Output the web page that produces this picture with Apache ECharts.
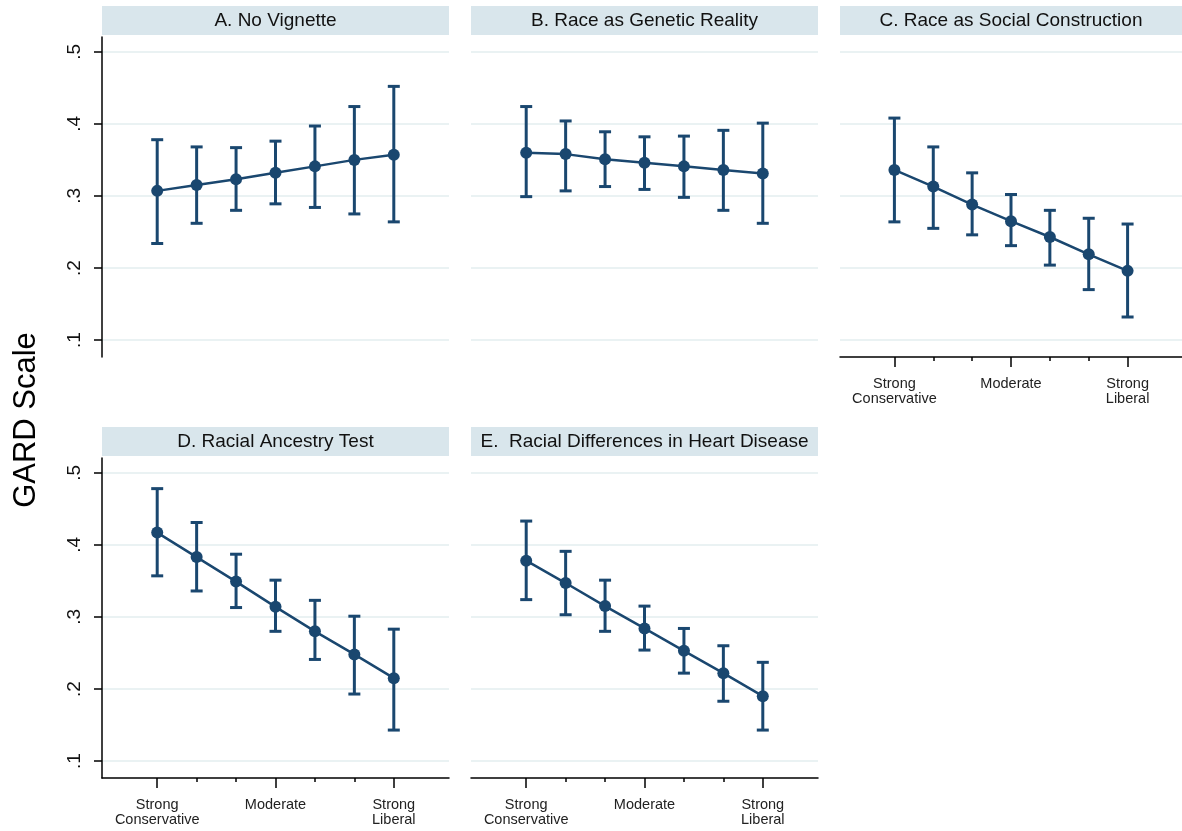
<!DOCTYPE html>
<html>
<head>
<meta charset="utf-8">
<script src="https://cdn.jsdelivr.net/npm/echarts@6/dist/echarts.min.js"></script>
<style>
html, body { margin: 0; padding: 0; background: #fff; }
#main { width: 1182px; height: 831px; }
</style>
</head>
<body>
<div id="main"></div>
<script>
// ideology scale, 1 = strong conservative ... 7 = strong liberal
var ideology = [1, 2, 3, 4, 5, 6, 7];
var xTickLabels = {1: 'Strong\nConservative', 4: 'Moderate', 7: 'Strong\nLiberal'};
var yTicks = [0.1, 0.2, 0.3, 0.4, 0.5];

var titles = ['A. No Vignette', 'B. Race as Genetic Reality', 'C. Race as Social Construction',
  'D. Racial Ancestry Test', 'E.  Racial Differences in Heart Disease'];

var meanA = [0.307, 0.315, 0.323, 0.332, 0.341, 0.350, 0.357];
var lowA  = [0.234, 0.262, 0.280, 0.289, 0.284, 0.275, 0.264];
var highA = [0.378, 0.368, 0.367, 0.376, 0.397, 0.424, 0.452];

var meanB = [0.360, 0.358, 0.351, 0.346, 0.341, 0.336, 0.331];
var lowB  = [0.299, 0.307, 0.313, 0.309, 0.298, 0.280, 0.262];
var highB = [0.424, 0.404, 0.389, 0.382, 0.383, 0.391, 0.401];

var meanC = [0.336, 0.313, 0.288, 0.265, 0.243, 0.219, 0.196];
var lowC  = [0.264, 0.255, 0.246, 0.231, 0.204, 0.170, 0.132];
var highC = [0.408, 0.368, 0.332, 0.302, 0.280, 0.269, 0.261];

var meanD = [0.417, 0.383, 0.349, 0.314, 0.280, 0.248, 0.215];
var lowD  = [0.357, 0.336, 0.313, 0.280, 0.241, 0.193, 0.143];
var highD = [0.478, 0.431, 0.387, 0.351, 0.323, 0.301, 0.283];

var meanE = [0.378, 0.347, 0.315, 0.284, 0.253, 0.222, 0.190];
var lowE  = [0.324, 0.303, 0.280, 0.254, 0.222, 0.183, 0.143];
var highE = [0.433, 0.391, 0.351, 0.315, 0.284, 0.260, 0.237];

var NAVY = '#1a476f';
var FONT = '"Liberation Sans", Arial, sans-serif';

// panel layout: left, top, showYaxis, showXaxis
var panels = [
  {left: 102, top: 37,  yAx: true,  xAx: false, mean: meanA, low: lowA, high: highA},
  {left: 471, top: 37,  yAx: false, xAx: false, mean: meanB, low: lowB, high: highB},
  {left: 840, top: 37,  yAx: false, xAx: true,  mean: meanC, low: lowC, high: highC},
  {left: 102, top: 458, yAx: true,  xAx: true,  mean: meanD, low: lowD, high: highD},
  {left: 471, top: 458, yAx: false, xAx: true,  mean: meanE, low: lowE, high: highE}
];
var PW = 347, PH = 320;

function errRender(params, api) {
  var x = api.value(0);
  var lo = api.coord([x, api.value(1)]);
  var hi = api.coord([x, api.value(2)]);
  var w = 6;
  var st = {stroke: NAVY, lineWidth: 3};
  return {
    type: 'group',
    children: [
      {type: 'line', shape: {x1: lo[0], y1: lo[1], x2: hi[0], y2: hi[1]}, style: st},
      {type: 'line', shape: {x1: lo[0] - w, y1: lo[1], x2: lo[0] + w, y2: lo[1]}, style: st},
      {type: 'line', shape: {x1: hi[0] - w, y1: hi[1], x2: hi[0] + w, y2: hi[1]}, style: st}
    ]
  };
}

var grid = [], xAxis = [], yAxis = [], series = [], graphic = [];

panels.forEach(function (p, i) {
  grid.push({left: p.left, top: p.top, width: PW, height: PH});

  // main x axis (minor ticks + line)
  xAxis.push({
    type: 'value', gridIndex: i, min: -0.4, max: 8.4, position: 'bottom',
    show: p.xAx,
    axisLine: {show: true, onZero: false, lineStyle: {color: '#000', width: 1.5}},
    axisTick: {show: true, customValues: ideology, length: 4, lineStyle: {color: '#000', width: 1.5}},
    axisLabel: {show: false},
    splitLine: {show: false}
  });
  // second x axis for the major ticks and labels
  xAxis.push({
    type: 'value', gridIndex: i, min: -0.4, max: 8.4, position: 'bottom',
    show: p.xAx,
    axisLine: {show: false, onZero: false},
    axisTick: {show: true, customValues: [1, 4, 7], length: 10, lineStyle: {color: '#000', width: 1.5}},
    axisLabel: {
      show: true, customValues: [1, 4, 7], margin: 19,
      formatter: function (v) { return xTickLabels[v] || ''; },
      fontFamily: FONT, fontSize: 14.5, lineHeight: 15, color: '#222'
    },
    splitLine: {show: false}
  });

  yAxis.push({
    type: 'value', gridIndex: i, min: 0.0765, max: 0.5205,
    axisLine: {show: p.yAx, onZero: false, lineStyle: {color: '#000', width: 1.5}},
    axisTick: {show: p.yAx, customValues: yTicks, length: 8, lineStyle: {color: '#000', width: 1.5}},
    axisLabel: {
      show: p.yAx, customValues: yTicks, rotate: 90, margin: 18,
      formatter: function (v) { return String(Math.round(v * 10) / 10).replace('0.', '.'); },
      fontFamily: FONT, fontSize: 19, color: '#111'
    },
    splitLine: {show: true, lineStyle: {color: '#eaf2f3', width: 2}}
  });

  series.push({
    type: 'custom', xAxisIndex: 2 * i, yAxisIndex: i,
    renderItem: errRender,
    data: ideology.map(function (x, k) { return [x, p.low[k], p.high[k]]; }),
    z: 2, silent: true
  });
  series.push({
    type: 'line', xAxisIndex: 2 * i, yAxisIndex: i,
    data: ideology.map(function (x, k) { return [x, p.mean[k]]; }),
    symbol: 'circle', symbolSize: 12,
    itemStyle: {color: NAVY},
    lineStyle: {color: NAVY, width: 2.5},
    z: 3, silent: true, animation: false
  });

  // strip title above each panel
  var barTop = i < 3 ? 6 : 427;
  var barW = i === 2 ? 1182 - p.left : PW;
  graphic.push({
    type: 'group', left: p.left, top: barTop,
    children: [
      {type: 'rect', shape: {x: 0, y: 0, width: barW, height: 29}, style: {fill: '#d9e6ec'}},
      {type: 'text', x: barW / 2, y: 15, style: {
        text: titles[i], fill: '#111', font: '19px ' + FONT,
        textAlign: 'center', textVerticalAlign: 'middle'}}
    ]
  });
});

graphic.push({
  type: 'text', x: 26, y: 420, rotation: Math.PI / 2,
  style: {text: 'GARD Scale', fill: '#000', font: '31px ' + FONT,
    textAlign: 'center', textVerticalAlign: 'middle'}
});

var chart = echarts.init(document.getElementById('main'));
chart.setOption({
  animation: false,
  backgroundColor: '#fff',
  grid: grid,
  xAxis: xAxis,
  yAxis: yAxis,
  series: series,
  graphic: graphic
});
</script>
</body>
</html>
